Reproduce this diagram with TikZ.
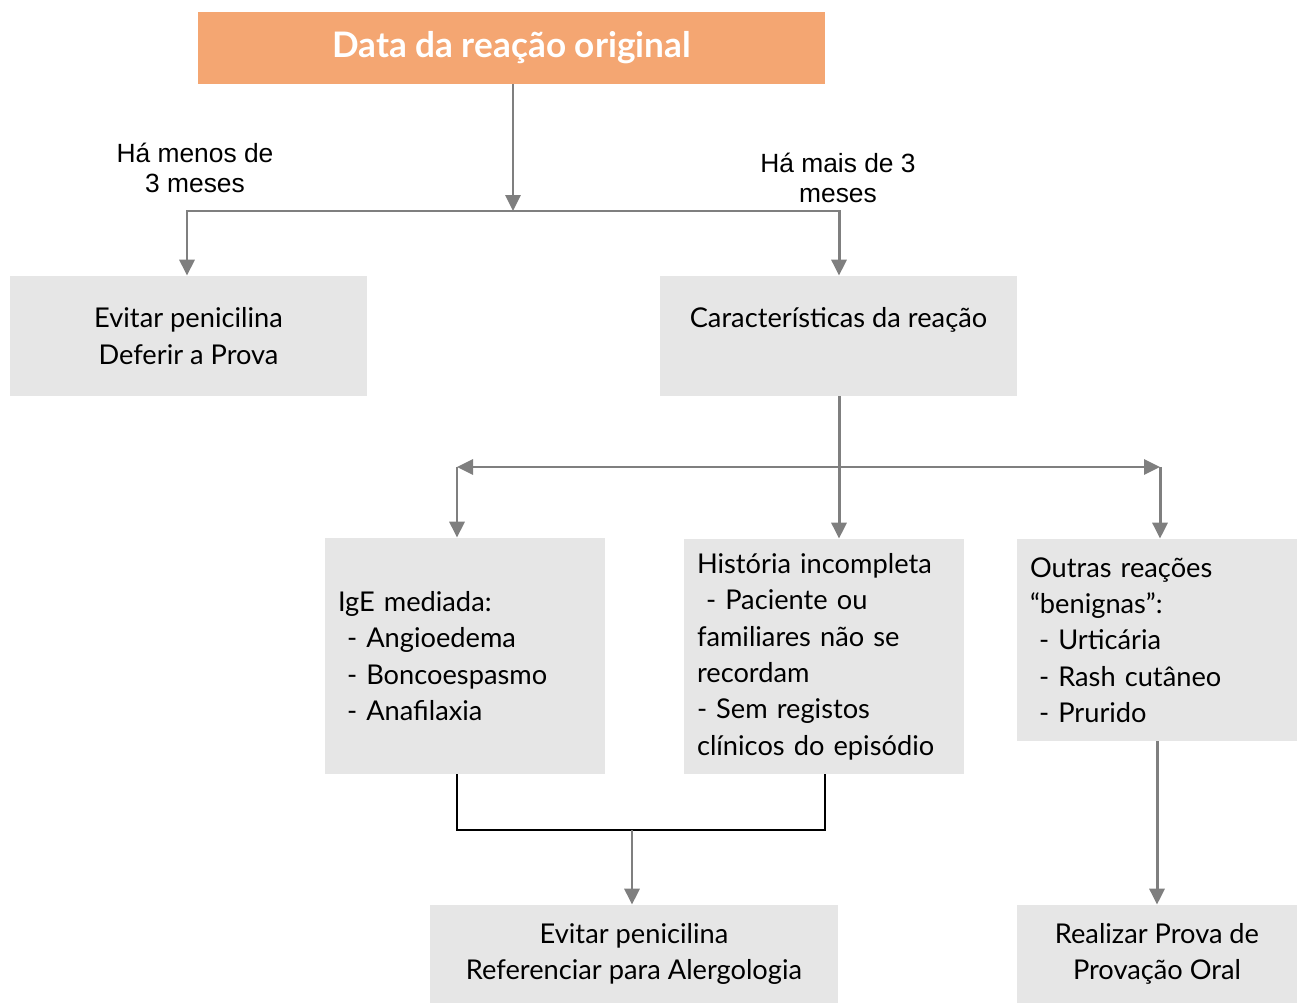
\documentclass[tikz,border=0pt]{standalone}
\usepackage{fontspec}
\setmainfont{Lato}
\newfontfamily\arialfont{Liberation Sans}
\usetikzlibrary{arrows.meta, calc}

\definecolor{laranja}{HTML}{F4A672}
\definecolor{cinzento}{HTML}{E6E6E6}
\definecolor{seta}{HTML}{7F7F7F}

\tikzset{
  caixa/.style={fill=cinzento, inner sep=0pt, align=center,
    font=\fontsize{15.5}{20.7}\selectfont},
  lista/.style={caixa, align=left, text width=#1},
  ligacao/.style={draw=seta, line width=1.7pt,
    -{Triangle[width=0.3cm, length=0.32cm]}},
  traco/.style={draw=seta, line width=1.7pt},
  fino/.style={draw=black, line width=0.7pt},
  rotulo/.style={align=center, font=\arialfont\fontsize{15}{17.5}\selectfont}
}

\begin{document}
\begin{tikzpicture}
  \useasboundingbox (0,0) rectangle (25.94,-20.06);
  % 顶部:Data da reação original
  \node[fill=laranja, minimum width=12.54cm, minimum height=1.44cm, text=white,
        font=\bfseries\fontsize{20}{24}\selectfont] (data) at (10.23,-0.96)
        {\raisebox{-1.5pt}{Data da reação original}};

  % 第二层
  \node[caixa, minimum width=7.14cm, minimum height=2.4cm] (evitar) at (3.77,-6.72)
        {Evitar penicilina\\Deferir a Prova};
  \node[caixa, minimum width=7.14cm, minimum height=2.4cm] (carac) at (16.77,-6.72)
        {Características da reação\\\mbox{}};

  % 第三层
  \node[lista=5.08cm, minimum width=5.6cm, minimum height=4.72cm] (ige) at (9.3,-13.12)
        {IgE mediada:\\\ - Angioedema\\\ - Boncoespasmo\\\ - Anafilaxia};
  \node[lista=5.08cm, minimum width=5.6cm, minimum height=4.7cm] (hist) at (16.48,-13.13)
        {História incompleta\\\ - Paciente ou\\familiares não se\\recordam\\- Sem registos\\clínicos do episódio};
  \node[lista=5.08cm, minimum width=5.6cm, minimum height=4.04cm] (outras) at (23.14,-12.8)
        {Outras reações\\“benignas”:\\\ - Urticária\\\ - Rash cutâneo\\\ - Prurido};

  % 底层
  \node[caixa, minimum width=8.16cm, minimum height=1.96cm] (referenciar) at (12.68,-19.08)
        {Evitar penicilina\\Referenciar para Alergologia};
  \node[caixa, minimum width=5.6cm, minimum height=1.96cm] (prova) at (23.14,-19.08)
        {Realizar Prova de\\Provação Oral};

  % 分支点
  \coordinate (j1) at (10.26,-4.22);
  \coordinate (ce) at (3.74,-4.22);
  \coordinate (j2) at (16.78,-9.34);
  \coordinate (jl) at (9.14,-9.34);
  \coordinate (jr) at (23.2,-9.34);
  \coordinate (bl) at (9.14,-16.6);
  \coordinate (br) at (16.5,-16.6);
  \coordinate (m) at (12.64,-16.6);

  % 时间标签
  \node[rotulo] (menos) at (3.9,-3.36) {Há menos de\\3 meses};
  \node[rotulo] (mais) at (16.76,-3.56) {Há mais de 3\\meses};

  % 连线
  \draw[ligacao] (j1 |- data.south) -- (j1);
  \draw[ligacao] (j1) -| (ce |- evitar.north);
  \draw[ligacao] (j1) -| (j2 |- carac.north);
  \draw[traco] (j2 |- carac.south) -- (j2);
  \draw[ligacao] (j2) -- (jl);
  \draw[ligacao] (j2) -- (jr);
  \draw[ligacao] (jl) -- (jl |- ige.north);
  \draw[ligacao] (j2) -- (j2 |- hist.north);
  \draw[ligacao] (jr) -- (jr |- outras.north);
  \draw[fino] (bl |- ige.south) -- (bl) -- (br) -- (br |- hist.south);
  \draw[ligacao] (m) -- (m |- referenciar.north);
  \draw[ligacao] (outras) -- (prova);
\end{tikzpicture}
\end{document}
